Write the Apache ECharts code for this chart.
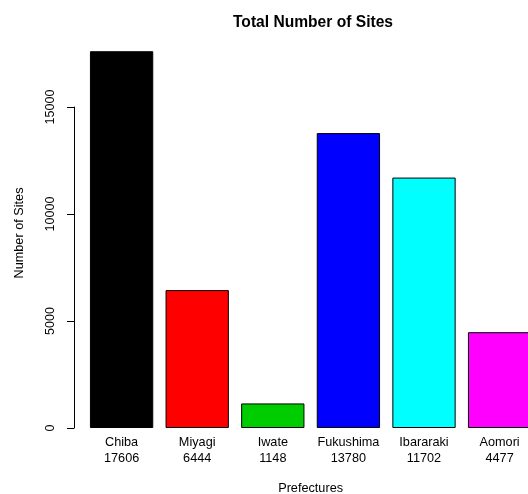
<!DOCTYPE html>
<html>
<head>
<meta charset="utf-8">
<script src="https://cdn.jsdelivr.net/npm/echarts@6/dist/echarts.min.js"></script>
<style>
  html, body { margin: 0; padding: 0; background: #fff; }
  #chart { width: 528px; height: 494px; }
</style>
</head>
<body>
<div id="chart"></div>
<script>
const prefectures = ['Chiba', 'Miyagi', 'Iwate', 'Fukushima', 'Ibararaki', 'Aomori'];
const sites = [17606, 6444, 1148, 13780, 11702, 4477];
const barColors = ['#000000', '#ff0000', '#00cd00', '#0000ff', '#00ffff', '#ff00ff'];
const yTicks = [0, 5000, 10000, 15000];

const font = "'Liberation Sans', Arial, sans-serif";

const chart = echarts.init(document.getElementById('chart'));

const option = {
  animation: false,
  backgroundColor: '#fff',
  title: {
    text: 'Total Number of Sites',
    left: 308,
    textAlign: 'center',
    top: 10,
    textStyle: { fontFamily: font, fontSize: 15.6, fontWeight: 'bold', color: '#000' }
  },
  grid: [
    // bars (plot region runs past the right edge, like the original)
    { left: 83.8, width: 453.6, top: 38, bottom: 66, outerBoundsMode: 'none' },
    // y axis drawn only from 0 to 15000
    { left: 74, width: 400, top: 107, bottom: 66, outerBoundsMode: 'none' }
  ],
  xAxis: [
    {
      gridIndex: 0,
      type: 'category',
      data: prefectures.map((p, i) => p + '\n' + sites[i]),
      axisLine: { show: false },
      axisTick: { show: false },
      axisLabel: {
        interval: 0,
        margin: 6,
        fontFamily: font,
        fontSize: 12.7,
        lineHeight: 16,
        color: '#000'
      },
      name: 'Prefectures',
      nameLocation: 'middle',
      nameGap: 54,
      nameTextStyle: { fontFamily: font, fontSize: 12.7, color: '#000' }
    },
    { gridIndex: 1, type: 'value', show: false }
  ],
  yAxis: [
    {
      gridIndex: 0,
      type: 'value',
      min: 0,
      max: 18224,
      axisLine: { show: false },
      axisTick: { show: false },
      axisLabel: { show: false },
      splitLine: { show: false },
      name: 'Number of Sites',
      nameLocation: 'middle',
      nameGap: 58,
      nameRotate: 90,
      nameTextStyle: { fontFamily: font, fontSize: 12.7, color: '#000' }
    },
    {
      gridIndex: 1,
      type: 'value',
      min: yTicks[0],
      max: yTicks[yTicks.length - 1],
      interval: 5000,
      axisLine: { show: true, lineStyle: { color: '#000', width: 1 } },
      axisTick: { show: true, length: 7, lineStyle: { color: '#000', width: 1 } },
      axisLabel: {
        rotate: 90,
        margin: 17,
        fontFamily: font,
        fontSize: 12.5,
        color: '#000',
        formatter: v => String(v)
      },
      splitLine: { show: false }
    }
  ],
  series: [
    {
      type: 'bar',
      xAxisIndex: 0,
      yAxisIndex: 0,
      barWidth: 63.3,
      data: sites.map((v, i) => ({
        value: v,
        itemStyle: { color: barColors[i], borderColor: '#000', borderWidth: 1 }
      }))
    }
  ]
};

chart.setOption(option);
</script>
</body>
</html>
